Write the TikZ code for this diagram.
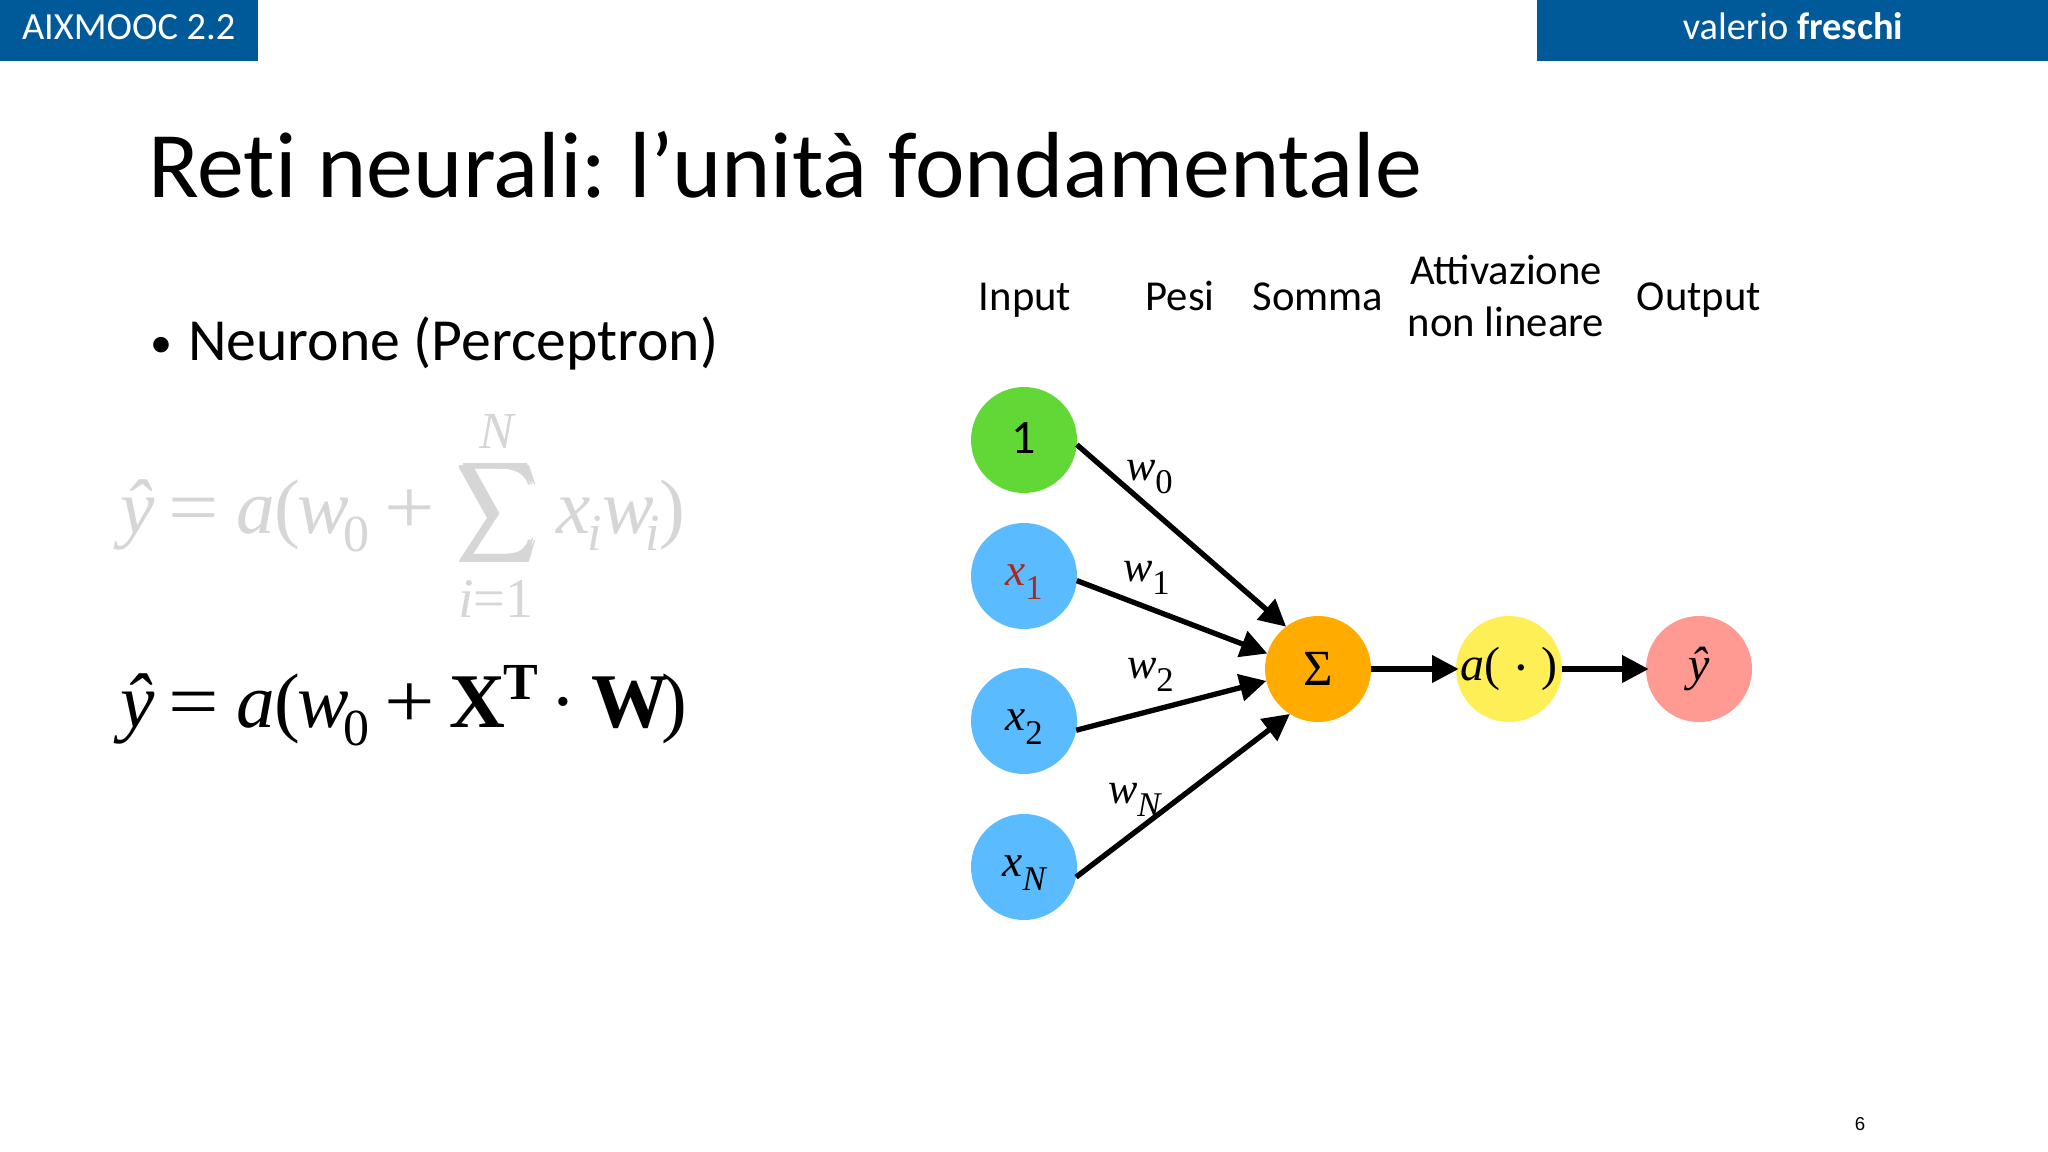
\documentclass[tikz,border=0pt]{standalone}
\usepackage{fontspec}
\usepackage{graphicx}
\usetikzlibrary{arrows.meta}
\setmainfont{Carlito}
\newfontfamily\tnr{Liberation Serif}
\newfontfamily\arl{Liberation Sans}
\newcommand{\fs}[1]{\fontsize{#1pt}{#1pt}\selectfont}
\newcommand{\subt}[2]{{\itshape #1}\raisebox{-.3em}{\fs{26}#2}}
\newcommand{\lowr}[1]{\rule{0pt}{25pt}#1}
\newcommand{\wider}[1]{\scalebox{1.16}[1]{#1}}
\newcommand{\heavysum}{\rlap{$\displaystyle\sum$}\kern.3pt\rlap{$\displaystyle\sum$}\kern.3pt\rlap{$\displaystyle\sum$}\kern.3pt\rlap{\raisebox{.2pt}{$\displaystyle\sum$}}\kern.3pt$\displaystyle\sum$}
\definecolor{hdr}{HTML}{005A9A}
\definecolor{ghost}{HTML}{D6D6D6}
\definecolor{xred}{HTML}{A82A1C}
\tikzset{
  x=0.75pt,y=-0.75pt,
  txt/.style={inner sep=0pt,outer sep=0pt,anchor=base west},
  lab/.style={inner sep=0pt,outer sep=0pt,anchor=base,font=\fs{32}},
  circ/.style={circle,minimum size=79.5pt,inner sep=0pt,outer sep=0pt,font=\tnr\fs{34}},
  wire/.style={line width=4pt,-{Triangle[length=20pt,width=20pt]},shorten <=0pt},
  wlab/.style={txt,font=\tnr\fs{33}},
  eq/.style={txt,font=\tnr\fs{58}},
  eqs/.style={txt,font=\tnr\fs{39}},
}
\begin{document}
\begin{tikzpicture}
\useasboundingbox (0,0) rectangle (2048,1152);
\fill[white] (0,0) rectangle (2048,1152);
\fill[hdr] (0,0) rectangle (258,61);
\fill[hdr] (1537,0) rectangle (2048,61);
\node[txt,text=white,font=\fs{28.8}] (hl) at (22,40) {AIXMOOC 2.2};
\node[inner sep=0pt,anchor=base,text=white,font=\fs{28.8}] (hr) at (1793,40) {valerio \textbf{freschi}};
\node[txt,font=\fs{70.4}] (title) at (148,197) {Ret\kern0pt i neurali: \kern-4.5pt l’unità fondamentale};
\node[txt,font=\fs{33}] (bul) at (150,357) {•};
\node[txt,font=\fs{44.8}] (neu) at (188,360) {Neurone (Perceptron)};
\node[inner sep=0pt,anchor=base,font=\arl\fs{14}] (pg) at (1860,1130) {6};
% top formula
\begin{scope}[text=ghost]
\node[eq] (g1) at (120,533) {\itshape ŷ};
\node[eq] (g2) at (168,533) {\wider{=}};
\node[eq] (g3) at (236,533) {\itshape a};
\node[eq] (g4) at (274,533) {(};
\node[eq] (g5) at (297,533) {\itshape w};
\node[eqs] (g6) at (343,551) {0};
\node[eq] (g7) at (384,533) {\wider{+}};
\node[inner sep=0pt,outer sep=0pt,anchor=south west] (g8) at (456,569) {\resizebox*{62pt}{84pt}{\heavysum}};
\node[eqs] (g9) at (479,448) {\itshape N};
\node[txt,font=\tnr\fs{42}] (g10) at (458,617) {\itshape i\upshape =1};
\node[eq] (g11) at (556,533) {\itshape x};
\node[eqs] (g12) at (587,550) {\itshape i};
\node[eq] (g13) at (602,533) {\itshape w};
\node[eqs] (g14) at (645,550) {\itshape i};
\node[eq] (g15) at (659,533) {)};
\end{scope}
% bottom formula
\node[eq] (f1) at (120,727) {\itshape ŷ};
\node[eq] (f2) at (168,727) {\wider{=}};
\node[eq] (f3) at (236,727) {\itshape a};
\node[eq] (f4) at (274,727) {(};
\node[eq] (f5) at (297,727) {\itshape w};
\node[eqs] (f6) at (343,745) {0};
\node[eq] (f7) at (384,727) {\wider{+}};
\node[eq] (f8) at (449,727) {\bfseries X};
\node[eqs] (f9) at (503,699) {\bfseries T};
\node[eq] (f10) at (550,727) {·};
\node[eq] (f11) at (591,727) {\bfseries W};
\node[eq] (f12) at (661,727) {)};
% column headers
\node[lab] (h1) at (1025,310.5) {Input};
\node[lab] (h2) at (1180,310.5) {Pesi};
\node[lab] (h3) at (1318,310.5) {Somma};
\node[lab] (h4) at (1506,284) {Attivazione};
\node[lab] (h4b) at (1506,336) {non lineare};
\node[lab] (h5) at (1699,310.5) {Output};
% network
\node[circ,fill={rgb,255:red,98;green,216;blue,54},font=\fs{36}] (n0) at (1024,440) {\rule[-3pt]{0pt}{0pt}1};
\node[circ,fill={rgb,255:red,90;green,187;blue,255}] (n1) at (1024,576) {\lowr{\color{xred}\subt{x}{1}}};
\node[circ,fill={rgb,255:red,90;green,187;blue,255}] (n2) at (1024,721) {\lowr{\subt{x}{2}}};
\node[circ,fill={rgb,255:red,90;green,187;blue,255}] (n3) at (1024,867) {\lowr{\subt{x}{\itshape N}}};
\node[circ,fill={rgb,255:red,255;green,171;blue,0},font=\tnr\fs{38}] (sum) at (1318,669) {Σ};
\node[circ,fill={rgb,255:red,255;green,239;blue,87},font=\tnr\fs{36}] (act) at (1509,669) {\makebox[0pt]{{\itshape a}( \smash{\raisebox{-4pt}{\fs{40}·}} )}};
\node[circ,fill={rgb,255:red,255;green,154;blue,146},font=\tnr\fs{36}] (out) at (1699,669) {\itshape ŷ};
\draw[wire] (n0.-5) -- (sum.127);
\draw[wire] (n1.-5) -- (sum.163);
\draw[wire] (n2.-10) -- (sum.193);
\draw[wire] (n3.-11) -- (sum.238);
\draw[wire,shorten >=-2pt] (sum.0) -- (act.180);
\draw[wire,shorten >=-2pt] (act.0) -- (out.180);
\node[wlab] (w0) at (1126,480) {\subt{w}{0}};
\node[wlab] (w1) at (1123,581) {\subt{w}{1}};
\node[wlab] (w2) at (1127,678.5) {\subt{w}{2}};
\node[wlab] (wN) at (1108,803) {\subt{w}{\itshape N}};
\end{tikzpicture}
\end{document}
